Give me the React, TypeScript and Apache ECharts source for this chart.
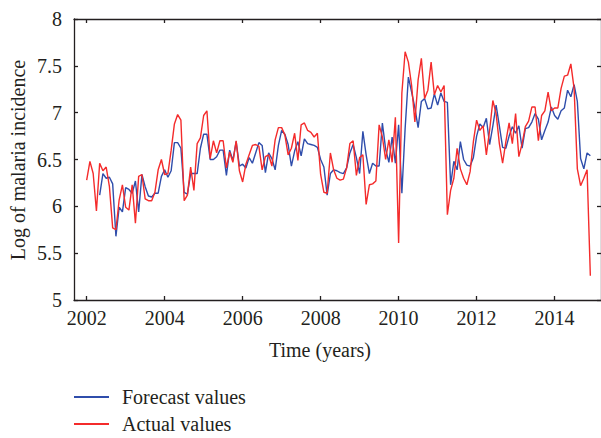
import React, { useEffect, useRef } from "react";
import * as echarts from "echarts";

const START_YEAR = 2002;
const X_TICKS = [2002, 2004, 2006, 2008, 2010, 2012, 2014];

// Monthly actual values (log of malaria incidence), Jan 2002 – Dec 2014
const actual2002 = [6.28, 6.48, 6.35, 5.95, 6.46, 6.38, 6.42, 6.21, 5.77, 5.75, 6.07, 6.23];
const actual2003 = [5.99, 5.96, 6.23, 5.82, 6.32, 6.34, 6.08, 6.06, 6.06, 6.15, 6.39, 6.5];
const actual2004 = [6.34, 6.35, 6.6, 6.88, 6.98, 6.92, 6.06, 6.12, 6.42, 6.17, 6.67, 6.73];
const actual2005 = [6.97, 7.02, 6.51, 6.7, 6.57, 6.7, 6.7, 6.41, 6.58, 6.47, 6.7, 6.38];
const actual2006 = [6.26, 6.45, 6.55, 6.65, 6.66, 6.64, 6.39, 6.53, 6.55, 6.43, 6.71, 6.84];
const actual2007 = [6.84, 6.76, 6.55, 6.62, 6.78, 6.49, 6.87, 6.89, 6.81, 6.79, 6.74, 6.78];
const actual2008 = [6.34, 6.15, 6.14, 6.57, 6.39, 6.3, 6.28, 6.29, 6.41, 6.67, 6.7, 6.33];
const actual2009 = [6.52, 6.55, 6.02, 6.23, 6.24, 6.27, 6.87, 6.74, 6.5, 6.71, 6.47, 6.95];
const actual2010 = [5.61, 7.21, 7.65, 7.54, 7.29, 6.9, 7.35, 7.58, 7.15, 7.24, 7.54, 7.19];
const actual2011 = [7.29, 7.22, 7.29, 5.91, 6.17, 6.3, 6.62, 6.4, 6.3, 6.23, 6.37, 6.69];
const actual2012 = [6.92, 6.81, 6.86, 6.55, 6.81, 7.13, 6.99, 6.67, 6.46, 6.69, 6.89, 6.67];
const actual2013 = [6.99, 6.53, 6.67, 6.85, 6.91, 7.06, 7.06, 6.7, 6.97, 7.02, 7.22, 7.02];
const actual2014 = [7.05, 7.05, 7.26, 7.39, 7.4, 7.52, 7.26, 6.4, 6.22, 6.3, 6.39, 5.26];

// Monthly forecast values (first four months have no forecast)
const forecast2002 = [null, null, null, null, 6.12, 6.35, 6.3, 6.31, 6.24, 5.68, 5.99, 5.94];
const forecast2003 = [6.2, 6.18, 6.14, 6.27, 5.94, 6.34, 6.21, 6.11, 6.1, 6.14, 6.14, 6.32];
const forecast2004 = [6.39, 6.31, 6.38, 6.68, 6.68, 6.62, 6.15, 6.13, 6.35, 6.35, 6.35, 6.62];
const forecast2005 = [6.77, 6.77, 6.5, 6.5, 6.53, 6.6, 6.6, 6.33, 6.6, 6.49, 6.69, 6.43];
const forecast2006 = [6.45, 6.41, 6.52, 6.46, 6.57, 6.68, 6.65, 6.36, 6.57, 6.51, 6.39, 6.65];
const forecast2007 = [6.81, 6.77, 6.66, 6.43, 6.59, 6.69, 6.54, 6.72, 6.67, 6.66, 6.65, 6.63];
const forecast2008 = [6.5, 6.42, 6.12, 6.35, 6.39, 6.38, 6.36, 6.35, 6.41, 6.57, 6.66, 6.52];
const forecast2009 = [6.35, 6.8, 6.55, 6.35, 6.46, 6.43, 6.43, 6.89, 6.61, 6.47, 6.74, 6.46];
const forecast2010 = [6.87, 6.14, 6.83, 7.38, 7.22, 7.05, 6.84, 7.12, 7.15, 7.04, 7.05, 7.2];
const forecast2011 = [7.08, 7.21, 7.12, 7.11, 6.23, 6.48, 6.39, 6.69, 6.5, 6.44, 6.43, 6.52];
const forecast2012 = [6.75, 6.88, 6.84, 6.94, 6.66, 6.86, 7.08, 6.86, 6.63, 6.62, 6.75, 6.85];
const forecast2013 = [6.78, 6.86, 6.62, 6.83, 6.84, 6.9, 6.99, 6.93, 6.71, 6.81, 6.9, 7.06];
const forecast2014 = [6.97, 6.93, 7.02, 7.05, 7.24, 7.17, 7.3, 7.12, 6.51, 6.4, 6.57, 6.54];

const actualValues: number[] = [
  ...actual2002, ...actual2003, ...actual2004, ...actual2005, ...actual2006,
  ...actual2007, ...actual2008, ...actual2009, ...actual2010, ...actual2011,
  ...actual2012, ...actual2013, ...actual2014,
];
const forecastValues: (number | null)[] = [
  ...forecast2002, ...forecast2003, ...forecast2004, ...forecast2005, ...forecast2006,
  ...forecast2007, ...forecast2008, ...forecast2009, ...forecast2010, ...forecast2011,
  ...forecast2012, ...forecast2013, ...forecast2014,
];

const toPairs = (vals: (number | null)[]) =>
  vals
    .map((v, i) => (v == null ? null : [START_YEAR + i / 12, v]))
    .filter((p) => p !== null) as number[][];

const FONT = '"Liberation Serif", "DejaVu Serif", serif';
const INK = "#231f20";
const BLUE = "#2f4dab";
const RED = "#f42b2b";

export default function App() {
  const ref = useRef<HTMLDivElement>(null);

  useEffect(() => {
    if (!ref.current) return;
    const chart = echarts.init(ref.current, null, { renderer: "svg" });
    const axisLineStyle = { color: INK, width: 1.3 };
    const xCommon = {
      type: "value" as const,
      min: 2001.675,
      max: 2015.19,
      splitLine: { show: false },
      axisLine: { show: true, onZero: false, lineStyle: axisLineStyle },
      axisTick: { show: true, inside: true, length: 4, customValues: X_TICKS, lineStyle: axisLineStyle },
    };
    const yCommon = {
      type: "value" as const,
      min: 5,
      max: 8,
      interval: 0.5,
      splitLine: { show: false },
      axisLine: { show: true, onZero: false, lineStyle: axisLineStyle },
      axisTick: { show: true, inside: true, length: 4, lineStyle: axisLineStyle },
    };
    chart.setOption({
      animation: false,
      grid: { left: 74, top: 19, right: 0, bottom: 138, containLabel: false },
      xAxis: [
        {
          ...xCommon,
          position: "bottom",
          axisLabel: {
            show: true,
            customValues: X_TICKS,
            formatter: (v: number) => String(Math.round(v)),
            margin: 8,
            color: INK,
            fontFamily: FONT,
            fontSize: 20,
          },
        },
        { ...xCommon, position: "top", axisLabel: { show: false } },
      ],
      yAxis: [
        {
          ...yCommon,
          position: "left",
          axisLabel: { show: true, margin: 12, color: INK, fontFamily: FONT, fontSize: 20 },
        },
        { ...yCommon, position: "right", axisLabel: { show: false } },
      ],
      legend: {
        orient: "vertical",
        left: 74,
        top: 387,
        padding: 0,
        itemGap: 7,
        itemWidth: 35,
        itemHeight: 2,
        icon: "rect",
        textStyle: { color: INK, fontFamily: FONT, fontSize: 20, lineHeight: 20, padding: [0, 0, 0, 8] },
        data: ["Forecast values", "Actual values"],
      },
      graphic: [
        {
          type: "text",
          x: 320,
          y: 350,
          style: {
            text: "Time (years)",
            fill: INK,
            font: `20px ${FONT}`,
            align: "center",
            verticalAlign: "middle",
          },
        },
        {
          type: "text",
          x: 18,
          y: 160,
          rotation: Math.PI / 2,
          style: {
            text: "Log of malaria incidence",
            fill: INK,
            font: `20px ${FONT}`,
            align: "center",
            verticalAlign: "middle",
          },
        },
      ],
      series: [
        {
          name: "Forecast values",
          type: "line",
          xAxisIndex: 0,
          yAxisIndex: 0,
          data: toPairs(forecastValues),
          showSymbol: false,
          symbol: "none",
          lineStyle: { color: BLUE, width: 1.4 },
          itemStyle: { color: BLUE },
        },
        {
          name: "Actual values",
          type: "line",
          xAxisIndex: 0,
          yAxisIndex: 0,
          data: toPairs(actualValues),
          showSymbol: false,
          symbol: "none",
          lineStyle: { color: RED, width: 1.4 },
          itemStyle: { color: RED },
        },
      ],
    });
    return () => chart.dispose();
  }, []);

  return (
    <div
      ref={ref}
      style={{ position: "fixed", left: 0, top: 0, width: 601, height: 438, background: "#fff" }}
    />
  );
}
